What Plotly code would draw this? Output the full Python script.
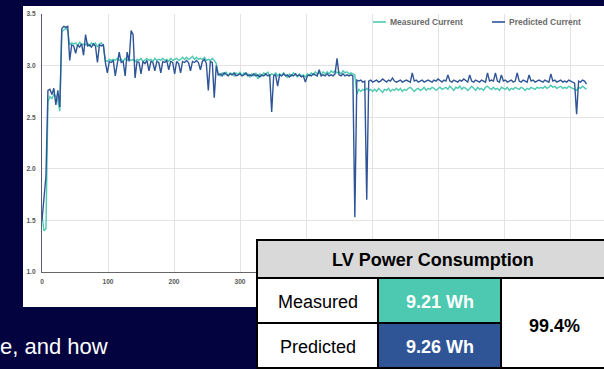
import plotly.graph_objects as go

# ---------------- data ----------------
time_s = list(range(0, 826, 3))

measured_current = [
    1.55, 1.40, 1.42, 2.65, 2.70, 2.68, 2.72, 2.70, 2.66, 2.56, 3.33, 3.35,
    3.36, 3.34, 3.20, 3.22, 3.21, 3.22, 3.19, 3.23, 3.20, 3.21, 3.20, 3.22,
    3.19, 3.22, 3.20, 3.22, 3.18, 3.21, 3.22, 3.19, 3.05, 3.04, 3.06, 3.05,
    3.06, 3.05, 3.07, 3.05, 3.06, 3.04, 3.07, 3.05, 3.06, 3.05, 3.06, 3.04,
    3.06, 3.05, 3.07, 3.04, 3.06, 3.07, 3.05, 3.06, 3.04, 3.07, 3.05, 3.06,
    3.05, 3.07, 3.05, 3.06, 3.04, 3.07, 3.05, 3.06, 3.07, 3.05, 3.06, 3.08,
    3.06, 3.08, 3.06, 3.07, 3.09, 3.06, 3.08, 3.06, 3.07, 3.06, 3.08, 3.05,
    3.06, 3.05, 3.07, 3.05, 3.02, 2.92, 2.90, 2.93, 2.91, 2.94, 2.90, 2.93,
    2.92, 2.90, 2.93, 2.91, 2.94, 2.90, 2.93, 2.91, 2.92, 2.89, 2.92, 2.90,
    2.93, 2.87, 2.92, 2.90, 2.93, 2.91, 2.94, 2.90, 2.92, 2.91, 2.93, 2.90,
    2.92, 2.90, 2.93, 2.91, 2.88, 2.92, 2.90, 2.93, 2.91, 2.89, 2.92, 2.90,
    2.91, 2.89, 2.92, 2.90, 2.93, 2.91, 2.94, 2.92, 2.93, 2.91, 2.94, 2.92,
    2.94, 2.92, 2.95, 2.93, 2.95, 2.93, 2.94, 2.92, 2.95, 2.93, 2.94, 2.92,
    2.93, 2.92, 2.91, 2.72, 2.77, 2.75, 2.77, 2.76, 2.78, 2.76, 2.77, 2.75,
    2.77, 2.75, 2.78, 2.76, 2.74, 2.77, 2.76, 2.78, 2.75, 2.77, 2.76, 2.78,
    2.76, 2.78, 2.75, 2.77, 2.76, 2.78, 2.79, 2.77, 2.75, 2.77, 2.78, 2.76,
    2.77, 2.79, 2.76, 2.78, 2.77, 2.79, 2.78, 2.76, 2.78, 2.79, 2.77, 2.78,
    2.79, 2.77, 2.80, 2.78, 2.76, 2.79, 2.78, 2.80, 2.77, 2.79, 2.78, 2.76,
    2.78, 2.80, 2.78, 2.76, 2.79, 2.77, 2.78, 2.76, 2.79, 2.80, 2.78, 2.77,
    2.79, 2.77, 2.78, 2.76, 2.79, 2.78, 2.77, 2.79, 2.76, 2.78, 2.77, 2.79,
    2.78, 2.77, 2.79, 2.78, 2.76, 2.78, 2.77, 2.79, 2.78, 2.77, 2.79, 2.78,
    2.79, 2.78, 2.80, 2.78, 2.79, 2.81, 2.79, 2.80, 2.78, 2.79, 2.80, 2.78,
    2.79, 2.78, 2.80, 2.79, 2.78, 2.77, 2.76, 2.79, 2.78, 2.80, 2.78, 2.77,
]

predicted_current = [
    1.50, 1.72, 1.93, 2.76, 2.77, 2.72, 2.78, 2.62, 2.76, 2.60, 3.36, 3.38,
    3.37, 3.38, 3.05, 3.20, 3.19, 3.12, 3.20, 3.18, 3.21, 3.10, 3.30, 3.19,
    3.20, 3.18, 3.21, 3.19, 3.03, 3.20, 3.19, 3.20, 3.03, 2.93, 3.04, 3.03,
    3.05, 2.90, 3.04, 3.13, 3.03, 3.04, 2.90, 3.13, 3.04, 3.34, 3.30, 2.88,
    3.04, 3.03, 2.92, 3.04, 3.02, 3.05, 2.95, 3.04, 3.03, 2.95, 3.04, 3.03,
    2.93, 3.04, 3.03, 3.05, 2.96, 3.04, 3.03, 2.92, 3.04, 3.02, 2.93, 3.04,
    3.03, 3.05, 3.03, 2.95, 3.04, 3.03, 3.05, 3.03, 2.96, 3.04, 3.06, 3.02,
    2.76, 3.04, 3.03, 2.69, 3.00, 2.91, 2.92, 2.90, 2.93, 2.91, 2.90, 2.92,
    2.91, 2.93, 2.90, 2.91, 2.92, 2.90, 2.91, 2.93, 2.90, 2.91, 2.90, 2.92,
    2.90, 2.91, 2.89, 2.91, 2.90, 2.92, 2.90, 2.91, 2.55, 2.90, 2.91, 2.80,
    2.91, 2.90, 2.92, 2.90, 2.91, 2.89, 2.91, 2.90, 2.92, 2.90, 2.91, 2.89,
    2.90, 2.84, 2.90, 2.91, 2.90, 2.92, 2.91, 2.90, 2.96, 2.90, 2.91, 2.90,
    2.92, 2.90, 2.91, 2.90, 2.92, 3.07, 2.91, 2.90, 2.92, 2.90, 2.91, 2.90,
    2.91, 2.90, 1.53, 2.86, 2.85, 2.86, 2.84, 2.85, 1.70, 2.85, 2.86, 2.84,
    2.85, 2.86, 2.84, 2.85, 2.87, 2.85, 2.84, 2.86, 2.85, 2.88, 2.85, 2.84,
    2.85, 2.86, 2.84, 2.85, 2.86, 2.85, 2.84, 2.93, 2.85, 2.86, 2.84, 2.85,
    2.86, 2.84, 2.85, 2.86, 2.85, 2.84, 2.86, 2.85, 2.87, 2.85, 2.84, 2.86,
    2.85, 2.91, 2.85, 2.84, 2.86, 2.85, 2.84, 2.86, 2.85, 2.87, 2.85, 2.84,
    2.91, 2.85, 2.84, 2.86, 2.85, 2.84, 2.86, 2.85, 2.84, 2.93, 2.85, 2.86,
    2.85, 2.93, 2.85, 2.84, 2.91, 2.85, 2.86, 2.84, 2.85, 2.86, 2.84, 2.85,
    2.93, 2.85, 2.84, 2.86, 2.85, 2.84, 2.91, 2.85, 2.86, 2.84, 2.85, 2.86,
    2.85, 2.84, 2.86, 2.85, 2.84, 2.92, 2.85, 2.86, 2.84, 2.85, 2.86, 2.84,
    2.85, 2.84, 2.86, 2.85, 2.84, 2.83, 2.53, 2.85, 2.84, 2.86, 2.85, 2.82,
]

series_names = ["Measured Current", "Predicted Current"]
x_ticks = [0, 100, 200, 300, 400, 500, 600, 700, 800]

table_title = "LV Power Consumption"
row_labels = ["Measured", "Predicted"]
energy_wh = [9.21, 9.26]
accuracy_pct = 99.4
caption = "e, and how"

# ---------------- style ----------------
TEAL = "#4cc9b0"
BLUE = "#2f5597"
NAVY = "#03033f"
W, H = 604, 369
L, R, T, B = 42, 0, 14, 97
PW, PH = W - L - R, H - T - B


def px(xp):
    return (xp - L) / PW


def py(yp):
    return (H - B - yp) / PH


fig = go.Figure()
fig.add_trace(go.Scatter(x=time_s, y=measured_current, mode="lines",
                         name=series_names[0], showlegend=False,
                         line=dict(color=TEAL, width=1.4)))
fig.add_trace(go.Scatter(x=time_s, y=predicted_current, mode="lines",
                         name=series_names[1], showlegend=False,
                         line=dict(color=BLUE, width=1.4)))

shapes = []
annotations = []

# white chart panel
shapes.append(dict(type="rect", xref="paper", yref="paper", layer="below",
                   x0=px(23), x1=px(606), y0=py(307), y1=py(6),
                   fillcolor="white", line=dict(width=0)))

# legend (manual, compact)
leg_font = dict(family="Liberation Sans, Arial", size=8.5, color="#6b6b6b", weight="bold")
for name, col, lx in [(series_names[0], TEAL, 373), (series_names[1], BLUE, 492)]:
    shapes.append(dict(type="line", xref="paper", yref="paper",
                       x0=px(lx), x1=px(lx + 13), y0=py(22), y1=py(22),
                       line=dict(color=col, width=1.6)))
    annotations.append(dict(text=name, xref="paper", yref="paper",
                            x=px(lx + 14.5), y=py(22), xanchor="left", yanchor="middle",
                            showarrow=False, font=leg_font))

# table
BK = dict(color="black", width=2)
cells = [
    (257, 240, 606, 278, "#d9d9d9"),
    (257, 278, 378, 323, "white"),
    (378, 278, 501, 323, TEAL),
    (257, 323, 378, 368, "white"),
    (378, 323, 501, 368, BLUE),
    (501, 278, 606, 368, "white"),
]
for x0, y0, x1, y1, fc in cells:
    shapes.append(dict(type="rect", xref="paper", yref="paper",
                       x0=px(x0), x1=px(x1), y0=py(y1), y1=py(y0),
                       fillcolor=fc, line=BK))

tfont = "Liberation Sans, Arial"
annotations.append(dict(text=table_title, xref="paper", yref="paper",
                        x=px(433), y=py(259.5), xanchor="center", yanchor="middle",
                        showarrow=False,
                        font=dict(family=tfont, size=18, color="black", weight="bold")))
for i, (lab, val) in enumerate(zip(row_labels, energy_wh)):
    yc = [301.5, 346.5][i]
    annotations.append(dict(text=lab, xref="paper", yref="paper",
                            x=px(317.5), y=py(yc), xanchor="center", yanchor="middle",
                            showarrow=False,
                            font=dict(family=tfont, size=18, color="black")))
    annotations.append(dict(text=f"{val:.2f} Wh", xref="paper", yref="paper",
                            x=px(439.5), y=py(yc), xanchor="center", yanchor="middle",
                            showarrow=False,
                            font=dict(family=tfont, size=18, color="white", weight="bold")))
annotations.append(dict(text=f"{accuracy_pct:.1f}%", xref="paper", yref="paper",
                        x=px(554.5), y=py(326), xanchor="center", yanchor="middle",
                        showarrow=False,
                        font=dict(family=tfont, size=18, color="black", weight="bold")))

# caption text on navy background
annotations.append(dict(text=caption, xref="paper", yref="paper",
                        x=px(-2), y=py(346.5), xanchor="left", yanchor="middle",
                        showarrow=False,
                        font=dict(family=tfont, size=22, color="white")))

tick_font = dict(family="Liberation Sans, Arial", size=6.6, color="#595959", weight="bold")
fig.update_layout(
    width=W, height=H,
    margin=dict(l=L, r=R, t=T, b=B, pad=0),
    paper_bgcolor=NAVY, plot_bgcolor="white",
    showlegend=False,
    shapes=shapes, annotations=annotations,
    xaxis=dict(range=[0, 851.5], tickvals=x_ticks, showgrid=True,
               gridcolor="#e3e3e3", gridwidth=1.2, zeroline=False,
               showline=True, linecolor="#666666", linewidth=1.2,
               ticks="outside", ticklen=3, tickcolor="rgba(0,0,0,0)",
               tickfont=tick_font),
    yaxis=dict(range=[1.0, 3.5], dtick=0.5, tickformat=".1f", showgrid=True,
               gridcolor="#e3e3e3", gridwidth=1.2, zeroline=False,
               showline=True, linecolor="#5a5a78", linewidth=1.2,
               ticks="outside", ticklen=4, tickcolor="rgba(0,0,0,0)",
               tickfont=tick_font),
)

fig.write_html(
    "out.html",
    config={"displayModeBar": False},
    post_script="document.body.style.margin='0';document.body.style.background='%s';" % NAVY,
)
